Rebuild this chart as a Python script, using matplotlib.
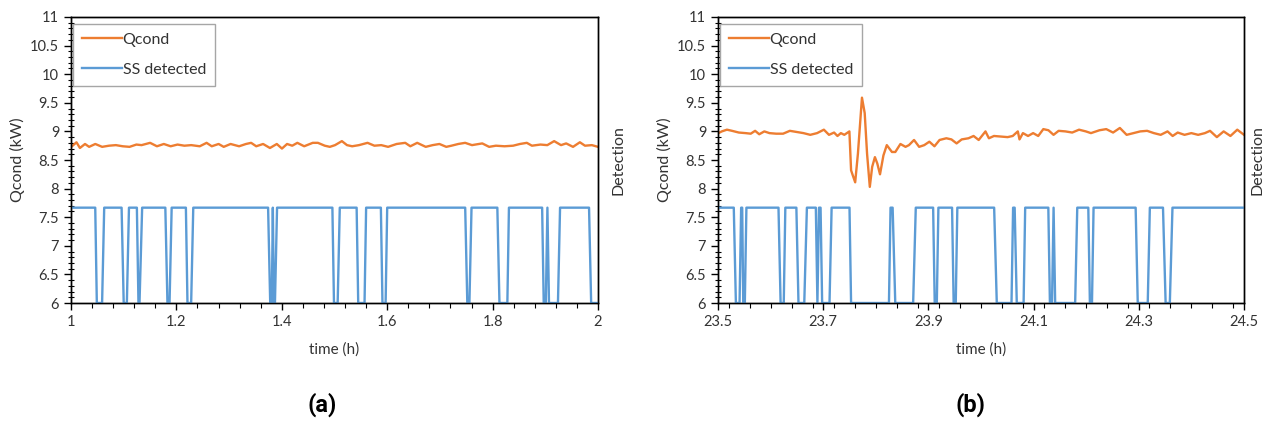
import matplotlib
matplotlib.use('Agg')
import matplotlib.pyplot as plt
from matplotlib.ticker import MultipleLocator, NullLocator

plt.rcParams['font.family'] = ['Lato', 'DejaVu Sans']

# 数据：面板 (a)
time_a = [1.0006, 1.0104, 1.0169, 1.0266, 1.0344, 1.0461, 1.0591, 1.0721, 1.0851, 1.0981,
          1.1111, 1.1241, 1.1339, 1.1501, 1.1631, 1.1761, 1.1891, 1.2021, 1.2151, 1.2281,
          1.2443, 1.2573, 1.2671, 1.2801, 1.2898, 1.3028, 1.3190, 1.3320, 1.3418, 1.3515,
          1.3645, 1.3775, 1.3905, 1.4003, 1.4100, 1.4198, 1.4295, 1.4425, 1.4587, 1.4685,
          1.4815, 1.4912, 1.5010, 1.5140, 1.5237, 1.5335, 1.5465, 1.5627, 1.5757, 1.5887,
          1.6017, 1.6179, 1.6342, 1.6439, 1.6569, 1.6731, 1.6862, 1.6991, 1.7121, 1.7219,
          1.7349, 1.7479, 1.7609, 1.7804, 1.7934, 1.8063, 1.8226, 1.8389, 1.8519, 1.8649,
          1.8746, 1.8908, 1.9038, 1.9168, 1.9298, 1.9396, 1.9526, 1.9656, 1.9753, 1.9883, 2.0]
qcond_a = [8.73, 8.81, 8.71, 8.78, 8.73, 8.78, 8.73, 8.75, 8.76, 8.74,
           8.73, 8.77, 8.76, 8.80, 8.74, 8.78, 8.74, 8.77, 8.75, 8.76,
           8.74, 8.80, 8.74, 8.78, 8.73, 8.78, 8.74, 8.78, 8.80, 8.74,
           8.78, 8.71, 8.78, 8.70, 8.78, 8.75, 8.80, 8.74, 8.80, 8.80,
           8.75, 8.73, 8.76, 8.83, 8.76, 8.74, 8.76, 8.80, 8.75, 8.76,
           8.73, 8.78, 8.80, 8.74, 8.80, 8.73, 8.76, 8.78, 8.73, 8.75,
           8.78, 8.80, 8.76, 8.79, 8.73, 8.75, 8.74, 8.75, 8.78, 8.80,
           8.75, 8.77, 8.76, 8.83, 8.76, 8.79, 8.73, 8.81, 8.75, 8.76, 8.73]

det_time_a = [1.0, 1.046, 1.049, 1.059, 1.063,
              1.096, 1.100, 1.106, 1.110,
              1.125, 1.128, 1.130, 1.135,
              1.179, 1.183, 1.187, 1.191,
              1.218, 1.221, 1.228, 1.232,
              1.374, 1.378, 1.381, 1.383, 1.385, 1.387, 1.391,
              1.496, 1.499, 1.506, 1.510,
              1.542, 1.545, 1.557, 1.560,
              1.588, 1.591, 1.597, 1.600,
              1.748, 1.752, 1.756, 1.760,
              1.809, 1.813, 1.828, 1.831,
              1.894, 1.897, 1.901, 1.904, 1.907, 1.924, 1.928,
              1.983, 1.987, 2.0]
det_a = [1, 1, 0, 0, 1,
         1, 0, 0, 1,
         1, 0, 0, 1,
         1, 0, 0, 1,
         1, 0, 0, 1,
         1, 0, 0, 1, 0, 0, 1,
         1, 0, 0, 1,
         1, 0, 0, 1,
         1, 0, 0, 1,
         1, 0, 0, 1,
         1, 0, 0, 1,
         1, 0, 0, 1, 0, 0, 1,
         1, 0, 0]

# 数据：面板 (b)
time_b = [23.5008, 23.5072, 23.5170, 23.5267, 23.5396, 23.5525, 23.5622, 23.5706, 23.5784, 23.5881,
          23.5978, 23.6107, 23.6237, 23.6366, 23.6496, 23.6625, 23.6754, 23.6884, 23.7013, 23.7110,
          23.7207, 23.7271, 23.7336, 23.7401, 23.7498, 23.7530, 23.7563, 23.7608, 23.7660, 23.7737,
          23.7789, 23.7834, 23.7886, 23.7931, 23.7983, 23.8028, 23.8080, 23.8145, 23.8209, 23.8307,
          23.8371, 23.8468, 23.8565, 23.8630, 23.8727, 23.8824, 23.8921, 23.9018, 23.9115, 23.9212,
          23.9341, 23.9438, 23.9536, 23.9633, 23.9762, 23.9859, 23.9956, 24.0085, 24.0150, 24.0247,
          24.0376, 24.0506, 24.0603, 24.0700, 24.0732, 24.0797, 24.0894, 24.0991, 24.1088, 24.1185,
          24.1282, 24.1379, 24.1476, 24.1605, 24.1734, 24.1864, 24.1993, 24.2090, 24.2252, 24.2381,
          24.2511, 24.2640, 24.2769, 24.2899, 24.3028, 24.3158, 24.3287, 24.3416, 24.3546, 24.3643,
          24.3740, 24.3869, 24.3999, 24.4128, 24.4257, 24.4354, 24.4484, 24.4613, 24.4742, 24.4872, 24.5]
qcond_b = [8.97, 9.00, 9.03, 9.01, 8.98, 8.97, 8.96, 9.01, 8.95, 9.00,
           8.97, 8.96, 8.96, 9.01, 8.99, 8.97, 8.94, 8.97, 9.03, 8.94,
           8.98, 8.92, 8.97, 8.94, 9.00, 8.32, 8.23, 8.11, 8.61, 9.59,
           9.32, 8.61, 8.03, 8.38, 8.55, 8.44, 8.25, 8.58, 8.76, 8.64,
           8.64, 8.78, 8.73, 8.76, 8.85, 8.73, 8.76, 8.82, 8.74, 8.85,
           8.88, 8.86, 8.79, 8.86, 8.88, 8.92, 8.85, 9.00, 8.88, 8.92,
           8.91, 8.90, 8.92, 9.00, 8.86, 8.97, 8.92, 8.97, 8.92, 9.04,
           9.02, 8.94, 9.01, 9.00, 8.98, 9.03, 9.00, 8.97, 9.02, 9.04,
           8.98, 9.06, 8.94, 8.97, 9.00, 9.01, 8.97, 8.94, 9.00, 8.92,
           8.98, 8.94, 8.97, 8.94, 8.97, 9.01, 8.90, 9.00, 8.92, 9.03, 8.94]

det_time_b = [23.5, 23.530, 23.534, 23.541, 23.544, 23.546, 23.548, 23.551, 23.554,
              23.615, 23.619, 23.625, 23.628,
              23.649, 23.653, 23.664, 23.669,
              23.686, 23.689, 23.692, 23.695, 23.698, 23.712, 23.716,
              23.750, 23.753, 23.825, 23.828, 23.832, 23.837, 23.871, 23.876,
              23.909, 23.912, 23.916, 23.919,
              23.945, 23.948, 23.952, 23.955,
              24.025, 24.030, 24.058, 24.061, 24.064, 24.068, 24.081, 24.084,
              24.128, 24.131, 24.135, 24.138, 24.141, 24.179, 24.183,
              24.204, 24.207, 24.211, 24.214,
              24.294, 24.298, 24.317, 24.321,
              24.346, 24.351, 24.359, 24.364, 24.5]
det_b = [1, 1, 0, 0, 1, 1, 0, 0, 1,
         1, 0, 0, 1,
         1, 0, 0, 1,
         1, 0, 1, 1, 0, 0, 1,
         1, 0, 0, 1, 1, 0, 0, 1,
         1, 0, 0, 1,
         1, 0, 0, 1,
         1, 0, 0, 1, 1, 0, 0, 1,
         1, 0, 0, 1, 0, 0, 1,
         1, 0, 0, 1,
         1, 0, 0, 1,
         1, 0, 0, 1, 1]

ORANGE = '#ED7D31'
BLUE = '#5B9BD5'
TXT = '#333333'


def drawPanel(rect, t, q, dt, dv, xlim, caption, caption_x, det_pad):
    """
    画一个子图
    """
    ax = fig.add_axes(rect)
    ax2 = ax.twinx()
    line_q, = ax.plot(t, q, color=ORANGE, lw=1.7, label='Qcond')
    line_d, = ax2.plot(dt, dv, color=BLUE, lw=1.7, label='SS detected')

    ax.set_xlim(*xlim)
    ax.set_ylim(6, 11)
    ax2.set_ylim(0, 3)
    ax.xaxis.set_minor_locator(MultipleLocator(0.04))
    ax.yaxis.set_minor_locator(MultipleLocator(0.1))
    ax.set_yticks([6, 6.5, 7, 7.5, 8, 8.5, 9, 9.5, 10, 10.5, 11])
    ax.set_yticklabels(['6', '6.5', '7', '7.5', '8', '8.5', '9', '9.5', '10', '10.5', '11'])
    xt = [xlim[0] + 0.2 * i for i in range(6)]
    ax.set_xticks(xt)
    ax.set_xticklabels(['%g' % round(v, 1) for v in xt])

    ax.tick_params(axis='both', which='major', direction='out', length=5, width=1,
                   labelsize=10.5, labelcolor=TXT, color='black')
    ax.tick_params(axis='y', which='minor', direction='inout', length=4, width=0.8)
    ax.tick_params(axis='x', which='minor', direction='out', length=3.5, width=0.8)
    ax2.yaxis.set_major_locator(NullLocator())
    ax2.yaxis.set_minor_locator(NullLocator())
    for a in (ax, ax2):
        for s in a.spines.values():
            s.set_color('black')
            s.set_linewidth(1)

    ax.set_xlabel('time (h)', fontsize=11, color=TXT, labelpad=10)
    ax.set_ylabel('Qcond (kW)', fontsize=11.5, color=TXT, labelpad=4)
    ax2.set_ylabel('Detection', fontsize=11.5, color=TXT, labelpad=det_pad)

    leg = ax2.legend([line_q, line_d], ['Qcond', 'SS detected'], loc='upper left',
                     bbox_to_anchor=(0.004, 0.976), borderaxespad=0, fontsize=11.5,
                     fancybox=False, framealpha=1, edgecolor='#a6a6a6',
                     handlelength=2.5, handletextpad=0.05, labelspacing=1.0,
                     borderpad=0.55)
    leg.get_frame().set_linewidth(1)
    for tx in leg.get_texts():
        tx.set_color(TXT)

    fig.text(caption_x, 1 - 405 / 423, caption, ha='center', va='center',
             fontsize=17, fontweight='bold', color='black',
             family=['Roboto', 'DejaVu Sans'])
    return ax


fig = plt.figure(figsize=(12.69, 4.23), dpi=100)
bottom = 1 - 303 / 423
height = 286 / 423
drawPanel([71 / 1269, bottom, 527 / 1269, height], time_a, qcond_a, det_time_a, det_a,
          (1.0, 2.0), '(a)', 322 / 1269, 10)
drawPanel([718 / 1269, bottom, 526 / 1269, height], time_b, qcond_b, det_time_b, det_b,
          (23.5, 24.5), '(b)', 970 / 1269, 5)

fig.savefig('out.png', dpi=100)
